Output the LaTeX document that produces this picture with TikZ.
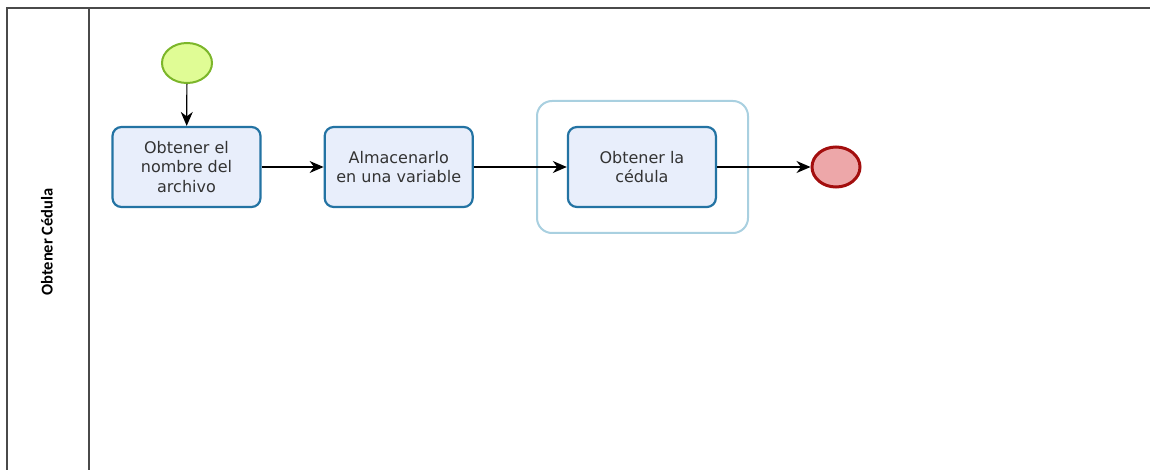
\documentclass[tikz,border=0pt]{standalone}
\usepackage{fontspec}
\setmainfont{DejaVu Sans}
\newfontfamily\lanefont{Carlito}
\usetikzlibrary{arrows.meta,positioning,shapes.geometric}
\definecolor{taskfill}{HTML}{E8EEFB}
\definecolor{taskdraw}{HTML}{2373A3}
\definecolor{startfill}{HTML}{E0FC95}
\definecolor{startdraw}{HTML}{7CB62A}
\definecolor{endfill}{HTML}{EDA7A9}
\definecolor{enddraw}{HTML}{A30E0E}
\definecolor{groupdraw}{HTML}{A9D0E0}
\definecolor{pooldraw}{HTML}{4A4A4A}
\tikzset{
	pool/.style={draw=pooldraw,line width=1.6pt},
	task/.style={draw=taskdraw,fill=taskfill,line width=2.2pt,rounded corners=9pt,
		minimum width=148pt,minimum height=80pt,align=center,
		font=\fontsize{16}{19.5}\selectfont,text=black!80},
	startev/.style={ellipse,draw=startdraw,fill=startfill,line width=2pt,
		minimum width=50pt,minimum height=40pt},
	endev/.style={ellipse,draw=enddraw,fill=endfill,line width=3pt,
		minimum width=48pt,minimum height=40pt},
	subgroup/.style={draw=groupdraw,line width=2pt,rounded corners=15pt},
	flow/.style={line width=1.2pt,-{Stealth[length=14pt,width=12pt,inset=4.5pt]}}
}
\begin{document}
\begin{tikzpicture}[x=1pt,y=-1pt]
	\useasboundingbox (0,0) rectangle (1150,470);
	
	% -------------------------------------------------
	% 1. Pool and lane
	% -------------------------------------------------
	\draw[pool] (7,470) -- (7,8) -- (1152,8);
	\draw[pool] (89,8) -- (89,470);
	\node[rotate=90,font=\lanefont\bfseries\fontsize{16.5}{18}\selectfont] (lane) at (47,242) {Obtener Cédula};
	
	% -------------------------------------------------
	% 2. Events and tasks
	% -------------------------------------------------
	\node[startev] (start) at (187,63) {};
	\node[task] (t1) at (186.5,167) {Obtener el\\nombre del\\archivo};
	\node[task,right=62pt of t1] (t2) {Almacenarlo\\en una variable};
	\node[task,right=93pt of t2] (t3) {Obtener la\\cédula};
	\node[endev] (fin) at (836,167) {};
	
	% sub-process frame round the last task
	\draw[subgroup] (537,101) rectangle (748,233);
	
	% -------------------------------------------------
	% 3. Sequence flows
	% -------------------------------------------------
	\draw[flow] (start) -- (t1);
	\draw[flow] (t1) -- (t2);
	\draw[flow] (t2) -- (t3);
	\draw[flow] (t3) -- (fin);
	
\end{tikzpicture}
\end{document}
